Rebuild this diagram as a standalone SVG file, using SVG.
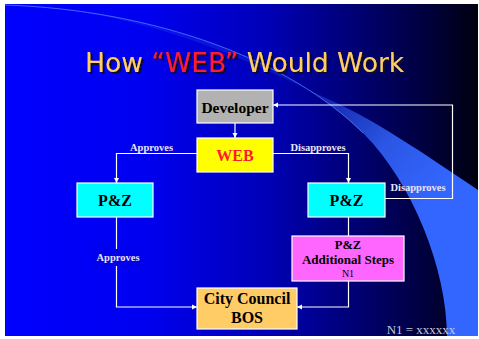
<svg xmlns="http://www.w3.org/2000/svg" width="479" height="339" viewBox="0 0 479 339">
<defs>
<linearGradient id="bg" x1="0" y1="0" x2="1" y2="0">
<stop offset="0" stop-color="#0000ff"/>
<stop offset="0.3" stop-color="#0000f0"/>
<stop offset="0.55" stop-color="#0000b8"/>
<stop offset="0.75" stop-color="#000070"/>
<stop offset="0.9" stop-color="#00003a"/>
<stop offset="1" stop-color="#000010"/>
</linearGradient>
<linearGradient id="swoosh" gradientUnits="userSpaceOnUse" x1="300" y1="85" x2="430" y2="200">
<stop offset="0" stop-color="#3366ff" stop-opacity="0.2"/>
<stop offset="0.6" stop-color="#3366ff" stop-opacity="0.85"/>
<stop offset="1" stop-color="#3366ff" stop-opacity="1"/>
</linearGradient>
<filter id="shadow" x="-5%" y="-20%" width="115%" height="150%">
<feDropShadow dx="2" dy="2" stdDeviation="0.3" flood-color="#10102a" flood-opacity="1"/>
</filter>
<marker id="ah" markerUnits="userSpaceOnUse" markerWidth="6" markerHeight="6" refX="5" refY="3" orient="auto">
<path d="M0,0.5 L5,3 L0,5.5 z" fill="#ffffff"/>
</marker>
<style>
.node{stroke:#ffffff;stroke-width:1.2}
.nt{font-family:"Liberation Serif","Times New Roman",serif;font-weight:bold;text-anchor:middle;fill:#000000}
.conn{fill:none;stroke:#ffffff;stroke-width:1.2}
.lbl{font-family:"Liberation Serif","Times New Roman",serif;font-weight:bold;font-size:10.5px;fill:#e6e6f8;text-anchor:middle}
.title{font-family:"DejaVu Sans","Verdana",sans-serif;font-size:26.5px}
</style>
</defs>
<rect x="0" y="0" width="479" height="339" fill="#ffffff"/>
<rect x="5" y="4" width="473" height="332" fill="url(#bg)"/>
<g id="swoosh-shape">
<path d="M5,5 C155,10 290,60 363,133 C413,183 447,270 447,336 L478,336 L478,190 C440,165 380,122 330,100 C270,72 155,9 5,5 z" fill="url(#swoosh)"/>
<path d="M5,5 C155,10 290,60 363,133" fill="none" stroke="#5a88ff" stroke-width="0.9" stroke-opacity="0.8"/>
</g>
<g id="title">
<text class="title" x="85" y="72" fill="#ffcc66" filter="url(#shadow)">How <tspan fill="#ff1a33">“WEB”</tspan> Would Work</text>
</g>
<g id="connectors">
<path class="conn" d="M235,123 V138" marker-end="url(#ah)"/>
<path class="conn" d="M197,153.5 H116.5 V183" marker-end="url(#ah)"/>
<path class="conn" d="M273,153.5 H348.5 V183" marker-end="url(#ah)"/>
<path class="conn" d="M385,198.5 H452.5 V105 H273" marker-end="url(#ah)"/>
<path class="conn" d="M348.5,217 V236"/>
<path class="conn" d="M348.5,281 V307 H297" marker-end="url(#ah)"/>
<path class="conn" d="M116.5,217 V307 H197" marker-end="url(#ah)"/>
<text class="lbl" x="151.5" y="151">Approves</text>
<text class="lbl" x="318" y="151">Disapproves</text>
<text class="lbl" x="418" y="191">Disapproves</text>
<rect x="93" y="249" width="52" height="17" fill="#0000ea"/>
<text class="lbl" x="118" y="261">Approves</text>
</g>
<g id="developer">
<rect class="node" x="197" y="90" width="76" height="33" fill="#b2b2b2"/>
<text class="nt" x="235" y="113" font-size="15.5">Developer</text>
</g>
<g id="web">
<rect class="node" x="197" y="138" width="76" height="34" fill="#ffff00"/>
<text class="nt" x="235" y="161" font-size="16" style="fill:#ff1a33">WEB</text>
</g>
<g id="pz-left">
<rect class="node" x="77" y="183" width="76" height="34" fill="#00ffff"/>
<text class="nt" x="115" y="206" font-size="16">P&amp;Z</text>
</g>
<g id="pz-right">
<rect class="node" x="308" y="183" width="77" height="34" fill="#00ffff"/>
<text class="nt" x="346.5" y="206" font-size="16">P&amp;Z</text>
</g>
<g id="pz-additional">
<rect class="node" x="292" y="236" width="112" height="45" fill="#ff66ff"/>
<text class="nt" x="348" y="248.5" font-size="12.5">P&amp;Z</text>
<text class="nt" x="348" y="264" font-size="13">Additional Steps</text>
<text class="nt" x="348" y="276.5" font-size="10" style="font-weight:normal">N1</text>
</g>
<g id="city-council">
<rect class="node" x="197" y="288" width="100" height="41" fill="#ffcc66"/>
<text class="nt" x="247" y="304" font-size="16">City Council</text>
<text class="nt" x="247" y="322.5" font-size="16">BOS</text>
</g>
<text x="421" y="333.5" font-family="'Liberation Serif','Times New Roman',serif" font-size="13" fill="#c8c8d8" text-anchor="middle">N1 = xxxxxx</text>
</svg>
